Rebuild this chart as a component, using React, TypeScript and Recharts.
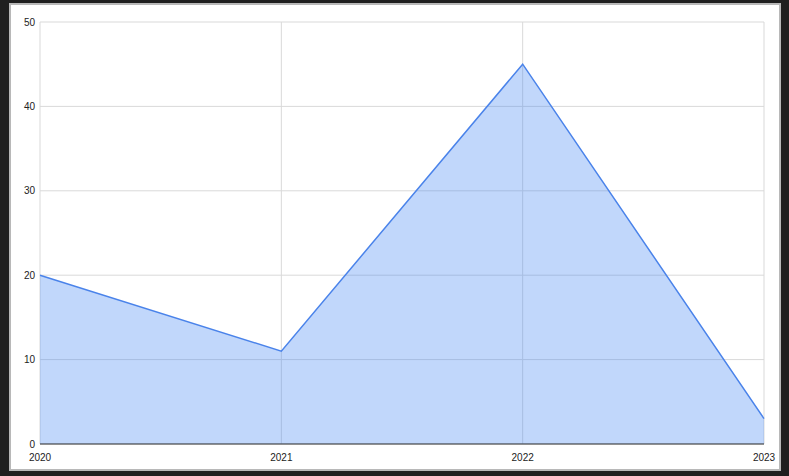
import React from "react";
import { AreaChart, Area, XAxis, YAxis, CartesianGrid } from "recharts";

const years = ["2020", "2021", "2022", "2023"];
const values = [20, 11, 45, 3];
const yTicks = [0, 10, 20, 30, 40, 50];

const data = years.map((y, i) => ({ year: y, value: values[i] }));

const YTick = (props: any) => {
  const { x, y, payload } = props;
  return (
    <text x={x} y={y} dy={3.5} textAnchor="end" fontSize={10} fill="#222" fontFamily="Liberation Sans, Arial, sans-serif">
      {payload.value}
    </text>
  );
};

const XTick = (props: any) => {
  const { x, y, payload } = props;
  return (
    <text x={x} y={y} dy={10.5} textAnchor="middle" fontSize={10} fill="#222" fontFamily="Liberation Sans, Arial, sans-serif">
      {payload.value}
    </text>
  );
};

export default function App() {
  return (
    <div style={{ position: "fixed", left: 0, top: 0, width: 789, height: 476, background: "#1f1f1f" }}>
      <div
        style={{
          position: "absolute",
          left: 9,
          top: 3,
          width: 768,
          height: 464,
          background: "#ffffff",
          border: "2px solid #b8b8b8",
        }}
      />
      <div style={{ position: "absolute", left: 0, top: 0 }}>
        <AreaChart
          width={789}
          height={476}
          data={data}
          margin={{ top: 22, right: 25, bottom: 12, left: 10 }}
        >
          <CartesianGrid stroke="#d9d9d9" strokeWidth={1} />
          <XAxis
            dataKey="year"
            height={20}
            axisLine={{ stroke: "#333", strokeWidth: 1 }}
            tickLine={false}
            tickMargin={0}
            tickSize={6}
            tick={<XTick />}
            interval={0}
          />
          <YAxis
            width={30}
            domain={[0, 50]}
            ticks={yTicks}
            axisLine={false}
            tickLine={false}
            tickSize={0}
            tickMargin={5}
            tick={<YTick />}
          />
          <Area
            type="linear"
            dataKey="value"
            stroke="#4a83ea"
            strokeWidth={1.5}
            fill="#4285f4"
            fillOpacity={0.33}
            isAnimationActive={false}
            dot={false}
            activeDot={false}
          />
        </AreaChart>
      </div>
    </div>
  );
}
